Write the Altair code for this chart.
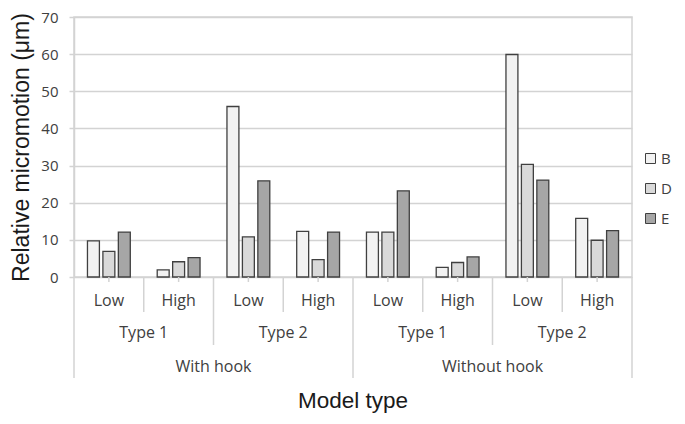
import altair as alt
import pandas as pd

hooks = ["With hook", "Without hook"]
types = ["Type 1", "Type 2"]
loads = ["Low", "High"]
series = ["B", "D", "E"]
values_B = [9.7, 1.9, 45.9, 12.3, 12.1, 2.6, 59.9, 15.8]
values_D = [6.9, 4.1, 10.8, 4.7, 12.1, 3.9, 30.3, 9.9]
values_E = [12.1, 5.2, 25.9, 12.1, 23.2, 5.4, 26.1, 12.5]
y_ticks = [0, 10, 20, 30, 40, 50, 60, 70]
colors = ["#f2f2f2", "#d9d9d9", "#a6a6a6"]

W, H = 558, 260
GRID = "#d3d3d3"
LBL = "#404040"

groups = [(h, t, l) for h in hooks for t in types for l in loads]
keys = [f"{h}|{t}|{l}" for h, t, l in groups]
n = len(keys)

rows = []
for s, vals in zip(series, [values_B, values_D, values_E]):
    for k, v in zip(keys, vals):
        rows.append({"group": k, "series": s, "value": v})
bars_df = pd.DataFrame(rows)

bars = alt.Chart(bars_df).mark_bar(stroke="#404040", strokeWidth=1.3).encode(
    x=alt.X("group:N", sort=keys, axis=None,
            scale=alt.Scale(paddingInner=0.386, paddingOuter=0.193)),
    xOffset=alt.XOffset("series:N", sort=series,
                        scale=alt.Scale(paddingInner=0.226, paddingOuter=0)),
    y=alt.Y("value:Q", scale=alt.Scale(domain=[0, 70], nice=False),
            axis=alt.Axis(values=y_ticks, title="Relative micromotion (μm)",
                          grid=True, gridColor=GRID, gridWidth=1.5,
                          domainColor=GRID, domainWidth=1.5,
                          tickColor=GRID, tickWidth=1.5, tickSize=5,
                          labelFont="Open Sans", labelFontSize=15, labelColor=LBL,
                          labelPadding=11,
                          titleFont="Liberation Sans", titleFontSize=23,
                          titleFontWeight="normal", titleColor="#1a1a1a",
                          titleX=-53, titleY=H / 2, titleAngle=-90,
                          titleAlign="center", titleBaseline="middle")),
    color=alt.Color("series:N", sort=series,
                    scale=alt.Scale(domain=series, range=colors),
                    legend=alt.Legend(title=None, orient="none", legendX=569, legendY=134,
                                      symbolType="square", symbolSize=100,
                                      symbolStrokeColor="#404040", symbolStrokeWidth=1,
                                      labelFont="Open Sans", labelFontSize=15,
                                      labelColor=LBL, labelOffset=3, rowPadding=14,
                                      padding=0)),
)

xq = alt.Scale(domain=[0, n], nice=False, zero=False)

# hierarchical axis pieces
tick_df = pd.DataFrame({"pos": [i + 0.5 for i in range(n)]})
load_df = pd.DataFrame({"pos": [i + 0.5 for i in range(n)],
                        "label": [g[2] for g in groups]})
type_df = pd.DataFrame({"pos": [2 * j + 1 for j in range(n // 2)],
                        "label": [groups[2 * j][1] for j in range(n // 2)]})
hook_df = pd.DataFrame({"pos": [4 * k + 2 for k in range(n // 4)],
                        "label": [groups[4 * k][0] for k in range(n // 4)]})
b_load = pd.DataFrame({"pos": [b for b in range(n + 1) if b % 2 == 1]})
b_type = pd.DataFrame({"pos": [b for b in range(n + 1) if b % 4 == 2]})
b_hook = pd.DataFrame({"pos": [b for b in range(n + 1) if b % 4 == 0]})
title_df = pd.DataFrame({"pos": [n / 2], "label": ["Model type"]})


def rule(df, depth):
    return alt.Chart(df).mark_rule(color=GRID, strokeWidth=1.5).encode(
        x=alt.X("pos:Q", scale=xq, axis=None),
        y=alt.value(H), y2=alt.value(H + depth))


def label(df, dy, font="Open Sans", size=16, color=LBL, baseline="middle"):
    return alt.Chart(df).mark_text(font=font, fontSize=size, color=color,
                                   baseline=baseline, align="center").encode(
        x=alt.X("pos:Q", scale=xq, axis=None),
        y=alt.value(H + dy), text="label:N")


layers = [
    bars,
    rule(tick_df, 5),
    rule(b_load, 35),
    rule(b_type, 68),
    rule(b_hook, 101),
    label(load_df, 24),
    label(type_df, 56),
    label(hook_df, 90),
    label(title_df, 131, font="Liberation Sans", size=22.5, color="#1a1a1a",
          baseline="alphabetic"),
]

chart = alt.layer(*layers).resolve_scale(x="independent").properties(
    width=W, height=H,
    autosize=alt.AutoSizeParams(type="none"),
    padding={"left": 66, "top": 9, "right": 45, "bottom": 139},
).configure_view(stroke=GRID, strokeWidth=1.5)

chart.save("out.html", embed_options={"renderer": "svg", "actions": False})
